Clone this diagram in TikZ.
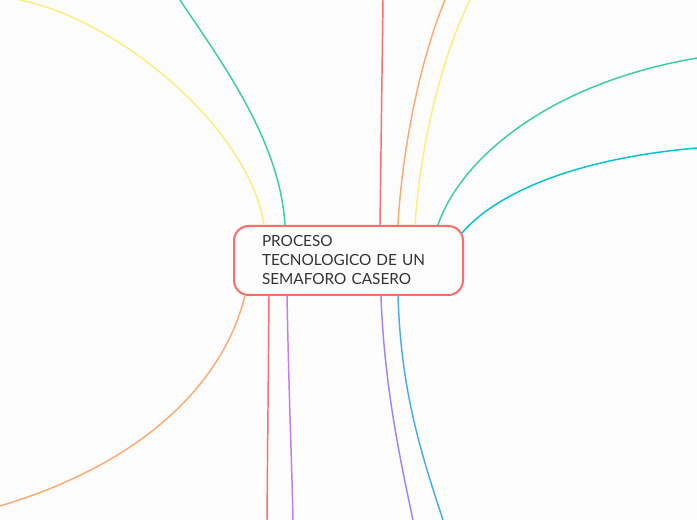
\documentclass[tikz,border=0pt]{standalone}
\usepackage{fontspec}
\setmainfont{Lato}
\usepackage{tikz}
\usetikzlibrary{calc}
\tikzset{every picture/.style={line width=0.75pt}}
\definecolor{fondo}{HTML}{FCFCFC}
\definecolor{texto}{HTML}{333333}
\definecolor{rojo}{HTML}{FF6D6A}
\definecolor{naranja}{HTML}{FFAA70}
\definecolor{amarillo}{HTML}{F9EF7E}
\definecolor{verde}{HTML}{3CCF98}
\definecolor{cian}{HTML}{00C4D2}
\definecolor{azul}{HTML}{4AABF5}
\definecolor{violeta}{HTML}{A383F7}
\definecolor{morado}{HTML}{C57BEB}
\tikzset{rama/.style={line width=1.1pt}}

\begin{document}
\begin{tikzpicture}[x=0.75pt,y=0.75pt,yscale=-1,xscale=1]
\path [fill=fondo] (0,0) rectangle (697,520);
\useasboundingbox (0,0) rectangle (697,520);

% Text Node
\node [draw=rojo, line width=1.5pt, rounded corners=11pt, fill=fondo, minimum width=171.75pt, minimum height=51.75pt, text width=129.75pt, inner xsep=21pt, align=left, text=texto, font=\fontsize{11.5}{14.25}\selectfont] (proc) at (348.5,260.5) {PROCESO\\TECNOLOGICO DE UN\\SEMAFORO CASERO};

% free ends
\coordinate (yl) at (20,0);
\coordinate (gl) at (180,0);
\coordinate (rt) at (383,0);
\coordinate (ot) at (445,0);
\coordinate (yt) at (470,0);
\coordinate (gr) at (697,58);
\coordinate (cr) at (697,148);
\coordinate (ob) at (0,506);
\coordinate (rb) at (267,520);
\coordinate (pb) at (293,520);
\coordinate (vb) at (413,520);
\coordinate (bb) at (443,520);

%Curve Lines
\draw [rama, color=amarillo]  ($(proc.north west)+(31,0)$) .. controls (250,130) and (120,20) .. (yl) ;
%Curve Lines
\draw [rama, color=verde]  ($(proc.north west)+(52,0)$) .. controls (280,140) and (220,60) .. (gl) ;
%Straight Lines
\draw [rama, color=rojo]  ($(proc.north west)+(147,0)$) -- (rt) ;
%Curve Lines
\draw [rama, color=naranja]  ($(proc.north west)+(165,0)$) .. controls (402,150) and (420,60) .. (ot) ;
%Curve Lines
\draw [rama, color=amarillo]  ($(proc.north west)+(182,0)$) .. controls (420,150) and (440,60) .. (yt) ;
%Curve Lines
\draw [rama, color=verde]  ($(proc.north west)+(205,0)$) .. controls (458,165) and (540,85) .. (gr) ;
%Curve Lines
\draw [rama, color=cian]  ($(proc.north east)+(-2,8)$) .. controls (490,200) and (560,160) .. (cr) ;
%Curve Lines
\draw [rama, color=naranja]  ($(proc.south west)+(12,-1)$) .. controls (230,360) and (170,455) .. (ob) ;
%Straight Lines
\draw [rama, color=rojo]  ($(proc.south west)+(36,0)$) -- (rb) ;
%Curve Lines
\draw [rama, color=morado]  ($(proc.south west)+(54,0)$) .. controls (289,400) and (292,470) .. (pb) ;
%Curve Lines
\draw [rama, color=violeta]  ($(proc.south west)+(148,0)$) .. controls (384,380) and (398,450) .. (vb) ;
%Curve Lines
\draw [rama, color=azul]  ($(proc.south west)+(165,0)$) .. controls (401,390) and (420,450) .. (bb) ;

\end{tikzpicture}
\end{document}
